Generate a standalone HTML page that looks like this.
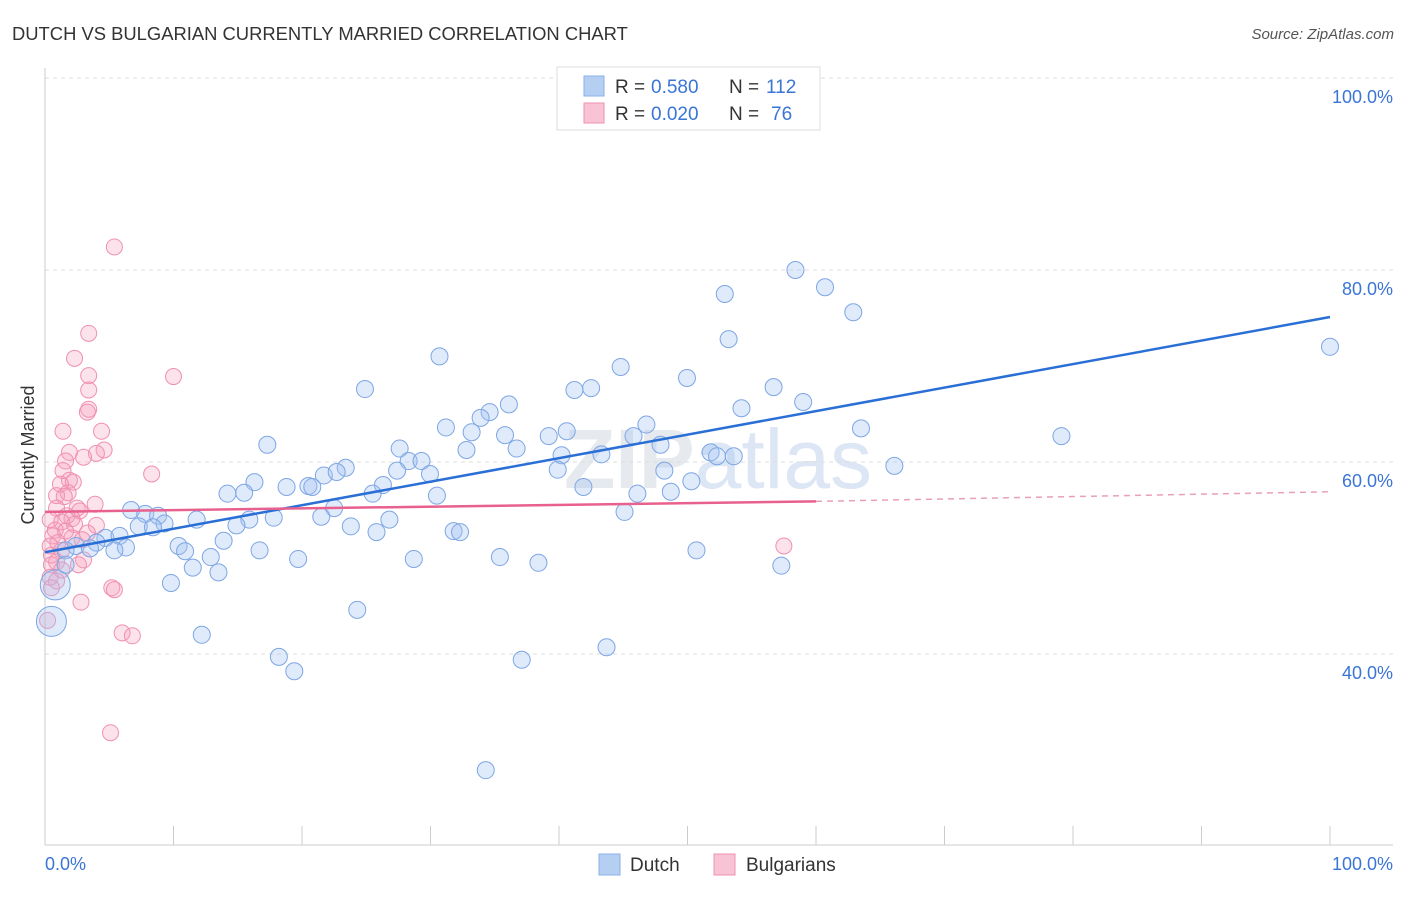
<!DOCTYPE html>
<html><head><meta charset="utf-8"><style>
body{margin:0;background:#fff;font-family:"Liberation Sans",sans-serif}
svg text{font-family:"Liberation Sans",sans-serif}
</style></head><body>
<svg id="chart" width="1406" height="892" viewBox="0 0 1406 892">
<text x="12" y="40" font-size="18.4" fill="#333">DUTCH VS BULGARIAN CURRENTLY MARRIED CORRELATION CHART</text>
<text x="1394" y="39" font-size="15" fill="#555" font-style="italic" text-anchor="end">Source: ZipAtlas.com</text>
<text x="718" y="488" font-size="84" fill="#e6e9ee" text-anchor="middle" font-weight="bold">ZIP<tspan fill="#dce6f4" font-weight="normal">atlas</tspan></text>
<g id="grid"></g><g id="marks"></g>
<text transform="translate(34,455) rotate(-90)" font-size="18" fill="#333" text-anchor="middle">Currently Married</text>
<g>
<rect x="557" y="67" width="263" height="63" fill="#fff" stroke="#ddd"/>
<rect x="584" y="76" width="20" height="20" fill="#b5cff3" stroke="#8ab0e8"/>
<rect x="584" y="103" width="20" height="20" fill="#f8c4d5" stroke="#f090b0"/>
<text x="615" y="93" font-size="19" fill="#333">R =</text>
<text x="651" y="93" font-size="19" fill="#3a75d6">0.580</text>
<text x="729" y="93" font-size="19" fill="#333">N =</text>
<text x="766" y="93" font-size="19" fill="#3a75d6">112</text>
<text x="615" y="120" font-size="19" fill="#333">R =</text>
<text x="651" y="120" font-size="19" fill="#3a75d6">0.020</text>
<text x="729" y="120" font-size="19" fill="#333">N =</text>
<text x="771" y="120" font-size="19" fill="#3a75d6">76</text>
</g>
<g>
<rect x="599" y="854" width="21" height="21" fill="#b5cff3" stroke="#8ab0e8"/>
<text x="630" y="871" font-size="19" fill="#333">Dutch</text>
<rect x="714" y="854" width="21" height="21" fill="#f8c4d5" stroke="#f090b0"/>
<text x="746" y="871" font-size="19" fill="#333">Bulgarians</text>
</g>
</svg>
<script>
const yTicks=[40,60,80,100];
const xTickLabels=["0.0%","100.0%"];
const dutchX=[58.4,60.7,52.9,62.9,53.2,100,30.7,44.8,49.96,42.5,41.2,24.9,56.7,36.1,59.0,54.2,34.6,33.9,31.2,46.8,63.5,33.2,40.6,35.8,39.2,45.8,79.1,17.3,47.9,27.6,32.8,36.7,51.8,43.3,40.2,52.3,53.6,28.3,29.3,23.4,27.4,39.9,48.2,66.1,21.7,22.7,29.96,26.3,16.3,50.3,20.5,18.8,20.8,41.9,14.2,15.5,25.5,30.5,46.1,48.7,6.7,22.5,7.8,8.8,21.5,45.1,11.8,15.9,17.8,26.8,9.3,7.3,8.4,14.9,23.8,25.8,31.8,32.3,4.7,5.8,13.9,4.0,10.4,2.4,6.3,3.5,5.4,10.9,16.7,1.6,50.7,12.9,19.7,35.4,28.7,38.4,11.5,13.5,57.3,1.6,9.8,0.8,24.3,0.5,12.2,43.7,18.2,37.1,19.4,34.3];
const dutchY=[80.0,78.2,77.5,75.6,72.8,72.0,71.0,69.9,68.75,67.7,67.5,67.6,67.8,66.0,66.25,65.6,65.2,64.6,63.6,63.9,63.5,63.1,63.2,62.8,62.7,62.7,62.7,61.8,61.8,61.4,61.25,61.4,61.0,60.8,60.7,60.6,60.6,60.1,60.1,59.4,59.1,59.2,59.1,59.6,58.6,58.96,58.75,57.6,57.9,58.0,57.5,57.4,57.4,57.4,56.7,56.8,56.7,56.5,56.7,56.9,55.0,55.2,54.6,54.4,54.3,54.8,54.0,54.0,54.2,54.0,53.6,53.3,53.2,53.4,53.3,52.7,52.8,52.7,52.1,52.3,51.8,51.6,51.25,51.25,51.1,51.0,50.8,50.7,50.8,50.8,50.8,50.1,49.9,50.1,49.9,49.5,49.0,48.5,49.2,49.3,47.4,47.2,44.6,43.4,42.0,40.7,39.7,39.4,38.2,27.9];
const dutchBig=[0.8,0.5];
const bulgX=[5.4,3.4,2.3,10.0,3.4,3.4,3.4,3.3,1.4,4.4,4.6,4.0,1.9,3.0,1.6,8.3,1.4,1.9,2.2,1.2,1.8,0.9,1.5,3.9,0.9,2.5,2.7,1.7,2.1,0.4,1.3,2.3,4.0,0.8,1.6,3.3,0.6,2.1,2.9,1.0,0.4,57.5,1.3,0.5,3.0,0.9,0.5,1.3,2.6,0.4,0.9,0.5,5.2,5.4,2.8,0.2,6.0,6.8,5.1];
const bulgY=[82.4,73.4,70.8,68.9,69.0,67.5,65.5,65.2,63.2,63.2,61.25,60.9,61.0,60.5,60.1,58.75,59.1,58.1,57.9,57.7,56.8,56.5,56.4,55.6,55.2,55.2,54.9,54.4,54.1,54.0,53.75,53.5,53.4,52.9,52.8,52.6,52.3,52.1,51.9,51.6,51.25,51.25,50.8,50.3,49.8,49.6,49.3,48.75,49.3,48.0,47.6,46.9,46.9,46.7,45.4,43.5,42.2,41.9,31.8];
const dutchTrend=[50.6,75.1];
const bulgTrend=[54.8,55.9,56.9];
const X=v=>45+v*12.85;
const Y=v=>462-(v-60)*9.6;
const NS="http://www.w3.org/2000/svg";
const grid=document.getElementById('grid'),marks=document.getElementById('marks');
function mk(tag,attrs,parent){const e=document.createElementNS(NS,tag);for(const k in attrs)e.setAttribute(k,attrs[k]);parent.appendChild(e);return e;}
yTicks.forEach(t=>{
 const l=mk('line',{x1:45,x2:1393,y1:Y(t),y2:Y(t),stroke:'#ddd','stroke-dasharray':'4,4'},grid);
 
 
 const tx=mk('text',{x:1393,y:Y(t)+25,'font-size':18,fill:'#3a75d6','text-anchor':'end'},grid);
 tx.textContent=t.toFixed(1)+'%';
 
 
});
mk('line',{x1:45,x2:45,y1:68,y2:845,stroke:'#ccc'},grid);
mk('line',{x1:45,x2:1393,y1:845,y2:845,stroke:'#ccc'},grid);
for(let i=0;i<=10;i++){mk('line',{x1:X(i*10),x2:X(i*10),y1:826,y2:845,stroke:'#ccc'},grid);}
const xl0=mk('text',{x:45,y:870,'font-size':18,fill:'#3a75d6'},grid);xl0.textContent=xTickLabels[0];


const xl1=mk('text',{x:1393,y:870,'font-size':18,fill:'#3a75d6','text-anchor':'end'},grid);xl1.textContent=xTickLabels[1];


bulgX.forEach((x,i)=>{const c=mk('circle',{cx:X(x),cy:Y(bulgY[i]),r:8,fill:'rgba(245,160,190,0.3)',stroke:'#f090b0','stroke-width':1},marks);
 
 });
dutchX.forEach((x,i)=>{const big=dutchBig.includes(x)&&i>95;const c=mk('circle',{cx:X(x),cy:Y(dutchY[i]),r:big?15:8.5,fill:'rgba(164,196,240,0.35)',stroke:'#7ea6e4','stroke-width':1},marks);
 
 });
const dl=mk('line',{x1:X(0),y1:Y(dutchTrend[0]),x2:X(100),y2:Y(dutchTrend[1]),stroke:'#2a6fd6','stroke-width':2.5},marks);


const bl=mk('line',{x1:X(0),y1:Y(bulgTrend[0]),x2:X(60),y2:Y(bulgTrend[1]),stroke:'#e8608e','stroke-width':2.5},marks);


const bd=mk('line',{x1:X(60),y1:Y(bulgTrend[1]),x2:X(100),y2:Y(bulgTrend[2]),stroke:'#e8a0b8','stroke-width':1.5,'stroke-dasharray':'6,5'},marks);


</script>
</body></html>
